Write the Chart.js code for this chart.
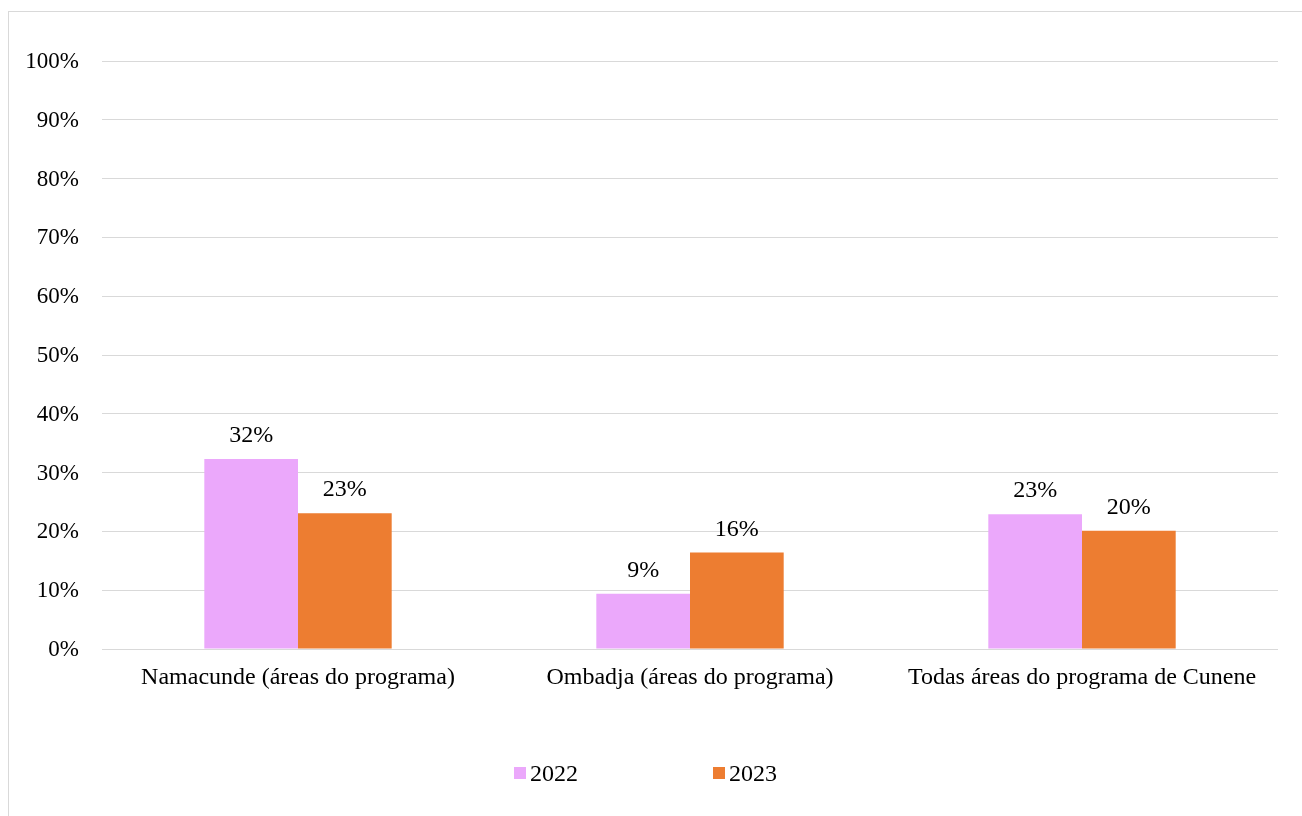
<!DOCTYPE html>
<html lang="pt">
<head>
<meta charset="utf-8">
<title>Namacunde, Ombadja e Cunene — 2022 vs 2023</title>
<script src="https://cdn.jsdelivr.net/npm/chart.js@4.4.1/dist/chart.umd.min.js"></script>
<style>
  html, body { margin: 0; padding: 0; background: #fff; }
  body { width: 1302px; height: 816px; position: relative; overflow: hidden; }
  #frame { position: absolute; left: 8px; top: 11px; width: 1400px; height: 900px;
           border: 1px solid #d9d9d9; box-sizing: border-box; }
  #wrap { position: absolute; left: 0; top: 0; width: 1302px; height: 816px; }
  #legend { position: absolute; top: 759px; left: 0; width: 1302px; height: 28px;
            font-family: "Liberation Serif", "Times New Roman", serif; font-size: 24px; color: #000; }
  .item { position: absolute; top: 0; display: flex; align-items: center; height: 28px; }
  .swatch { width: 12px; height: 12px; margin-right: 4px; }
</style>
</head>
<body>
<div id="frame"></div>
<div id="wrap"><canvas id="chart" width="1302" height="816"></canvas></div>
<div id="legend"></div>
<script>
// Categories and series (share of respondents, %)
const categories = [
  "Namacunde (áreas do programa)",
  "Ombadja (áreas do programa)",
  "Todas áreas do programa de Cunene"
];
const seriesNames = ["2022", "2023"];
const values2022 = [32.3, 9.4, 22.9];
const values2023 = [23.1, 16.4, 20.1];
const yTicks = [0, 10, 20, 30, 40, 50, 60, 70, 80, 90, 100];

const colors = ["#EBA8FB", "#ED7D31"];
const FONT = "'Liberation Serif', 'Times New Roman', serif";
const FONT_SIZE = 24;

// Value labels above each bar
const valueLabels = {
  id: "valueLabels",
  afterDatasetsDraw(chart) {
    const ctx = chart.ctx;
    ctx.save();
    ctx.font = FONT_SIZE + "px " + FONT;
    ctx.fillStyle = "#000";
    ctx.textAlign = "center";
    ctx.textBaseline = "alphabetic";
    chart.data.datasets.forEach((ds, i) => {
      chart.getDatasetMeta(i).data.forEach((bar, j) => {
        ctx.fillText(Math.round(ds.data[j]) + "%", bar.x, bar.y - 17);
      });
    });
    ctx.restore();
  }
};

const chart = new Chart(document.getElementById("chart"), {
  type: "bar",
  data: {
    labels: categories,
    datasets: [
      { label: seriesNames[0], data: values2022, backgroundColor: colors[0] },
      { label: seriesNames[1], data: values2023, backgroundColor: colors[1] }
    ]
  },
  options: {
    responsive: false,
    animation: false,
    devicePixelRatio: 1,
    layout: { padding: { top: 61, right: 24, bottom: 0, left: 0 } },
    datasets: { bar: { barPercentage: 1, categoryPercentage: 0.478, borderWidth: 0 } },
    plugins: {
      legend: { display: false },
      tooltip: { enabled: false }
    },
    scales: {
      x: {
        grid: { display: false, drawTicks: false },
        border: { display: false },
        ticks: { color: "#000", font: { family: FONT, size: FONT_SIZE }, padding: 14,
                 maxRotation: 0, autoSkip: false },
        afterFit(s) { s.height = 167; }
      },
      y: {
        min: 0, max: 100,
        afterBuildTicks(s) { s.ticks = yTicks.map(v => ({ value: v })); },
        grid: { color: "#d9d9d9", lineWidth: 1, drawTicks: false },
        border: { display: false },
        ticks: { color: "#000", font: { family: FONT, size: 23 }, padding: 23,
                 labelOffset: 1, callback: v => v + "%" },
        afterFit(s) { s.width = 102; }
      }
    }
  },
  plugins: [valueLabels]
});

// Legend under the plot
const legend = document.getElementById("legend");
const legendX = [514, 713];
seriesNames.forEach((name, i) => {
  const item = document.createElement("div");
  item.className = "item";
  item.style.left = legendX[i] + "px";
  const sw = document.createElement("span");
  sw.className = "swatch";
  sw.style.background = colors[i];
  const tx = document.createElement("span");
  tx.textContent = name;
  item.appendChild(sw);
  item.appendChild(tx);
  legend.appendChild(item);
});
</script>
</body>
</html>
